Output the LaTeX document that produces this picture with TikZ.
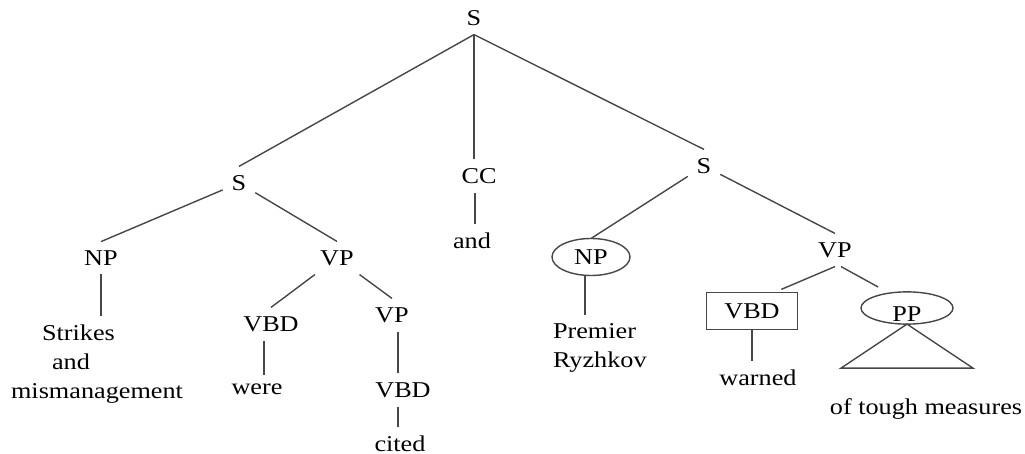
\documentclass[tikz,border=0pt]{standalone}
\usepackage{fontspec}
\setmainfont{Liberation Serif}[FakeStretch=1.16]
\usetikzlibrary{shapes.geometric}

\begin{document}
\begin{tikzpicture}[x=0.5pt, y=-0.5pt, line width=0.7pt,
    font=\fontsize{11.3}{14.5}\selectfont,
    every node/.style={inner sep=2pt, outer sep=2.5pt},
    link/.style={draw=black!72},
    ring/.style={ellipse, draw=black!72, outer sep=0pt}]
  \useasboundingbox (0,0) rectangle (1025,454);

  % top level
  \node (root) at (474,18) {S};
  \node (sL) at (239,183) {S};
  \node (cc) at (479,176) {CC};
  \node (sR) at (704,166) {S};
  \draw[link] (root.south) -- (sL.north);
  \draw[link] (root.south) -- (root.south |- cc.north);
  \draw[link] (root.south) -- (sR.north);
  \node (andw) at (472,241) {and};
  \draw[link] ([xshift=-2pt]cc.south) -- ([xshift=-2pt]cc.south |- andw.north);

  % left clause
  \node (npL) at (101,258) {NP};
  \node (vpL) at (337,258) {VP};
  \draw[link] (sL) -- (npL.north);
  \draw[link] (sL) -- (vpL.north);
  \node[anchor=north, align=left] (strikes) at (97,316)
    {\hspace*{15.5pt}Strikes\\ \hspace*{20.5pt}and\\ mismanagement};
  \draw[link] (npL.south) -- (npL.south |- strikes.north);
  \node (vbdA) at (271,324) {VBD};
  \node (vpB) at (392,315) {VP};
  \draw[link] (vpL) -- (vbdA.north);
  \draw[link] (vpL) -- (vpB.north);
  \node (were) at (257,389) {were};
  \draw[link] ([xshift=-3.5pt]vbdA.south) -- ([xshift=-3.5pt]vbdA.south |- were.north);
  \node (vbdB) at (403,390) {VBD};
  \draw[link] ([xshift=3pt]vpB.south) -- ([xshift=3pt]vpB.south |- vbdB.north);
  \node (cited) at (400,444) {cited};
  \draw[link] ([xshift=-2.5pt]vbdB.south) -- ([xshift=-2.5pt]vbdB.south |- cited.north);

  % right clause
  \node[ring, minimum width=39pt, minimum height=18.5pt] (npR) at (591,257) {NP};
  \node (vpR) at (835,250) {VP};
  \draw[link] (sR) -- (npR.north);
  \draw[link] (sR) -- (vpR.north);
  \node[anchor=north west, align=left] (premier) at (544,315) {Premier\\ Ryzhkov};
  \draw[link] ([xshift=-3pt]npR.south) -- ([xshift=-3pt]npR.south |- premier.north);
  \node[draw=black!72, outer sep=0pt, minimum width=45.5pt, minimum height=18.5pt] (vbdR) at (752,311) {VBD};
  \node[ring, minimum width=46pt, minimum height=15pt] (pp) at (907,308)
    {\raisebox{-3pt}[\height][\depth]{PP}};
  \draw[link, shorten >=4pt] (vpR.south) -- ([xshift=11pt]vbdR.north);
  \draw[link, shorten >=5pt] ([xshift=3pt]vpR.south) -- ([xshift=-10pt]pp.north);
  \node (warned) at (758,378) {warned};
  \draw[link] (vbdR.south) -- (vbdR.south |- warned.north);
  \draw[link] (pp.south) -- ++(-66,44) -- ++(132,0) -- cycle;
  \node (measures) at (926,409) {of tough measures};
\end{tikzpicture}
\end{document}
